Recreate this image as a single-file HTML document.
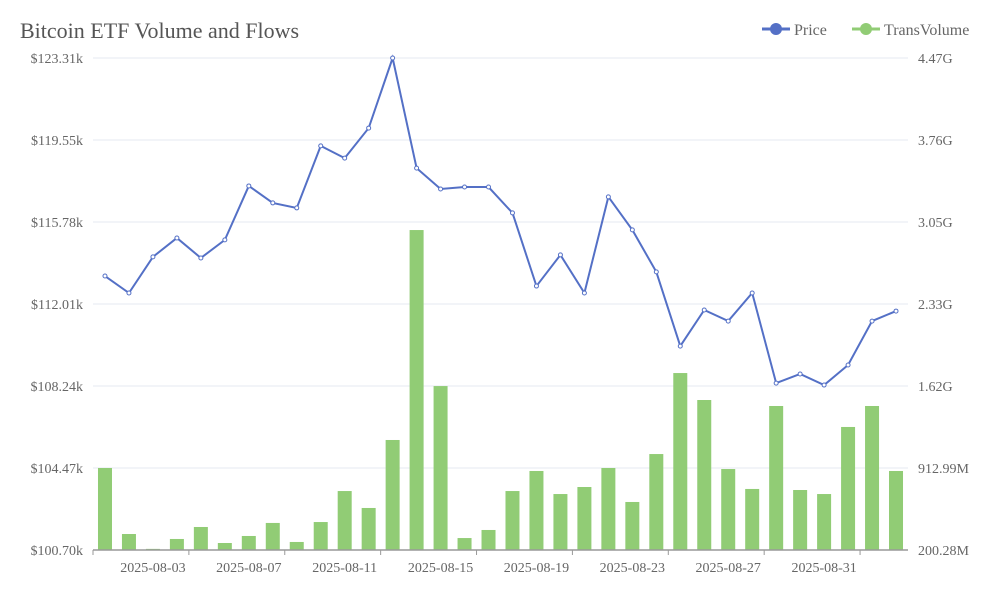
<!DOCTYPE html>
<html><head><meta charset="utf-8"><style>
body{margin:0;background:#fff;}
svg text{font-family:"Liberation Serif",serif;}
</style></head><body>
<svg width="1000" height="600" id="c">
<text x="20" y="38" font-size="22" fill="#555">Bitcoin ETF Volume and Flows</text>
<g>
<g><line x1="762" y1="29" x2="790" y2="29" stroke="#5470c6" stroke-width="3"/><circle cx="776" cy="29" r="6" fill="#5470c6"/><text x="794" y="35" font-size="16" fill="#666">Price</text></g>
<g><line x1="852" y1="29" x2="880" y2="29" stroke="#91cc75" stroke-width="3"/><circle cx="866" cy="29" r="6" fill="#91cc75"/><text x="884" y="35" font-size="16" fill="#666">TransVolume</text></g>
</g>
<g id="grid"></g><g id="bars"></g><g id="line"></g><g id="axes"></g>
</svg>
<script>
const dates=[];for(let i=0;i<34;i++){const d=new Date(Date.UTC(2025,7,1+i));dates.push(d.toISOString().slice(0,10));}
const price=[113.29,112.51,114.17,115.04,114.12,114.95,117.43,116.65,116.42,119.27,118.71,120.09,123.31,118.25,117.29,117.38,117.38,116.19,112.83,114.26,112.51,116.93,115.41,113.48,110.07,111.73,111.22,112.51,108.37,108.79,108.28,109.20,111.22,111.68];
const volume=[912,339,210,296,400,261,322,435,270,443,712,565,1155,2977,1623,304,374,712,886,686,747,912,617,1033,1736,1502,903,730,1450,721,686,1268,1450,886];
const leftTicks=["$100.70k","$104.47k","$108.24k","$112.01k","$115.78k","$119.55k","$123.31k"];
const rightTicks=["200.28M","912.99M","1.62G","2.33G","3.05G","3.76G","4.47G"];
const X0=93,X1=908,Y0=550,Y1=58,pMin=100.70,pMax=123.31,vMin=200.28,vMax=4470;
const band=(X1-X0)/dates.length;
const xc=i=>X0+band*(i+0.5);
const yP=v=>Y0-(v-pMin)/(pMax-pMin)*(Y0-Y1);
const yV=v=>Y0-(v-vMin)/(vMax-vMin)*(Y0-Y1);
const NS="http://www.w3.org/2000/svg";
function mk(t,a,p){const e=document.createElementNS(NS,t);for(const k in a)e.setAttribute(k,a[k]);p.appendChild(e);return e;}
const grid=document.getElementById('grid'),axes=document.getElementById('axes');
leftTicks.forEach((t,i)=>{const y=Y0-i*(Y0-Y1)/6;
 if(i>0){const g=mk('line',{x1:X0,x2:X1,y1:y,y2:y,stroke:'#e6e9f2'},grid);
 
 }
 const l=mk('text',{x:83,y:y+5,'text-anchor':'end','font-size':14,fill:'#666'},axes);l.textContent=t;
 
 
 const r=mk('text',{x:918,y:y+5,'font-size':14,fill:'#666'},axes);r.textContent=rightTicks[i];
 
 
});
const bars=document.getElementById('bars');
volume.forEach((v,i)=>{const y=yV(v);const b=mk('rect',{x:xc(i)-7,y:y,width:14,height:Math.max(Y0-y,1),fill:'#91cc75'},bars);
 
 });
const lg=document.getElementById('line');
const pl=mk('polyline',{points:price.map((v,i)=>xc(i)+','+yP(v)).join(' '),fill:'none',stroke:'#5470c6','stroke-width':2},lg);


price.forEach((v,i)=>{const c=mk('circle',{cx:xc(i),cy:yP(v),r:2,fill:'#fff',stroke:'#5470c6','stroke-width':1},lg);
 
 });
const ax=mk('line',{x1:X0,x2:X1,y1:Y0,y2:Y0,stroke:'#999','stroke-width':1.5},axes);


for(let i=0;i<=dates.length;i+=4){const x=X0+band*i;mk('line',{x1:x,x2:x,y1:Y0,y2:Y0+5,stroke:'#999'},axes);}
dates.forEach((d,i)=>{if(i%4!==2)return;const t=mk('text',{x:xc(i),y:572,'text-anchor':'middle','font-size':14,fill:'#666'},axes);t.textContent=d;
 
 });
</script>
</body></html>
